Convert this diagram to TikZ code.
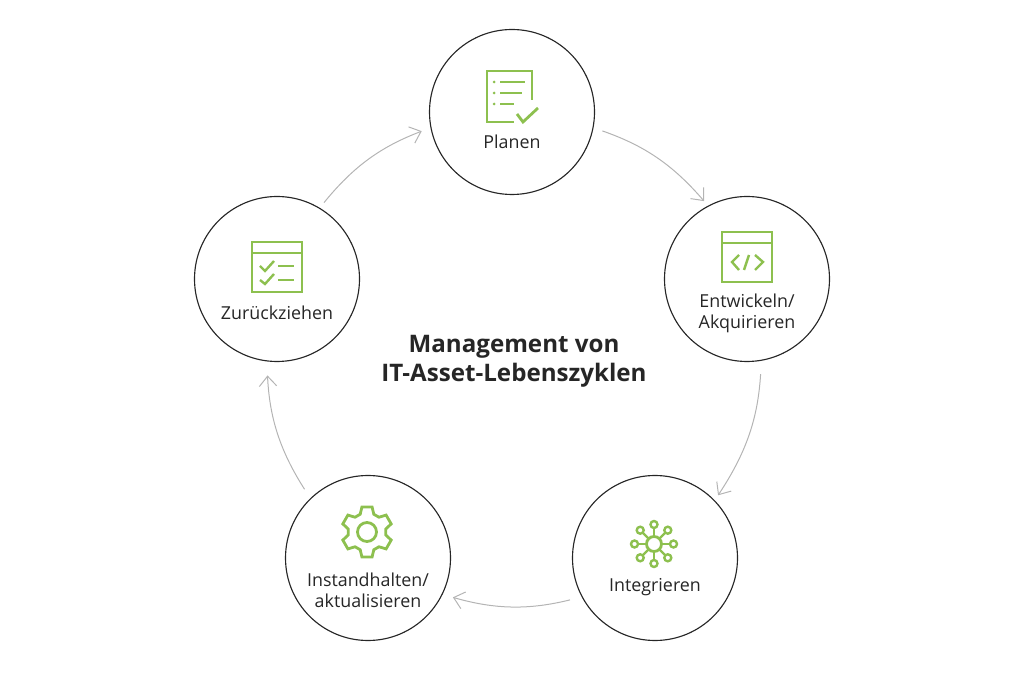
\documentclass[tikz,border=0pt]{standalone}
\usepackage{fontspec}
\setmainfont{Open Sans}
\usetikzlibrary{arrows.meta,positioning}
\definecolor{leaf}{HTML}{8DC04F}
\definecolor{ink}{HTML}{262626}
\definecolor{flowgray}{HTML}{B4B4B4}
\tikzset{
    stage/.style={circle,draw=ink,line width=.85pt,minimum size=123.75pt,inner sep=0pt},
    stagetext/.style={text=ink,align=center,inner sep=0pt,font=\fontsize{13.4}{15.75}\selectfont},
    heading/.style={text=ink,align=center,inner sep=0pt,font=\fontsize{18.1}{21.75}\selectfont\bfseries},
    flow/.style={draw=flowgray,line width=.75pt,-{Straight Barb[length=7.5pt,width=13pt]}},
    icon/.style={draw=leaf,line width=2.1pt,line cap=butt,line join=miter},
    iconthin/.style={draw=leaf,line width=1.8pt}
}
\begin{document}
\begin{tikzpicture}[x=.75pt,y=.75pt,on grid,auto]
    \useasboundingbox (0,0) rectangle (1024,682);
    \node[stage] (planen) at (512,570) {};
    \node[stage] (entwickeln) [below right=125.25pt and 176.25pt of planen] {};
    \node[stage] (integrieren) [below left=209.25pt and 69pt of entwickeln] {};
    \node[stage] (instandhalten) [left=215.25pt of integrieren] {};
    \node[stage] (zurueck) [below left=125.25pt and 176.25pt of planen] {};
    \node[heading] (titel) at (514,321) {Management von\\IT-Asset-Lebenszyklen};
    \node[stagetext] (planentext) [below=22.5pt of planen] {Planen};
    \node[stagetext] (entwickelntext) [below=25.75pt of entwickeln] {Entwickeln/\\Akquirieren};
    \node[stagetext] (integrierentext) [below=21.5pt of integrieren] {Integrieren};
    \node[stagetext] (instandhaltentext) [below=24pt of instandhalten] {Instandhalten/\\aktualisieren};
    \node[stagetext] (zuruecktext) [below=25.5pt of zurueck] {Zurückziehen};
    \path
    (planen.-11) edge [flow,bend left=15,shorten <=7pt,shorten >=4.5pt] (entwickeln.118)
    (entwickeln.-80) edge [flow,bend left=15,shorten <=10pt,shorten >=4.5pt] (integrieren.44)
    (integrieren.208) edge [flow,bend left=15,shorten <=9pt,shorten >=8pt] (instandhalten.-26)
    (instandhalten.134) edge [flow,bend left=15,shorten <=8pt,shorten >=10.5pt] (zurueck.263)
    (zurueck.59) edge [flow,bend left=15,shorten <=5pt,shorten >=7pt] (planen.191);
    % icons
    \begin{scope}[shift={(planen)}]
        \draw[icon] (20,12) -- (20,41) -- (-25,41) -- (-25,-10) -- (2,-10);
        \draw[icon] (5,-2) -- (11,-10) -- (26,4);
        \draw[iconthin] (-12,30) -- (13,30) (-12,19) -- (10,19) (-12,8) -- (2,8);
        \foreach \y in {30,19,8}
            \fill[leaf] (-18,\y) circle (1.5);
    \end{scope}
    \begin{scope}[shift={(entwickeln)}]
        \draw[icon] (-25,-3) rectangle (25,47) (-25,36) -- (25,36);
        \draw[iconthin] (-8,24) -- (-15,17) -- (-8,9) (8,24) -- (16,17) -- (8,9) (2,24) -- (-3,9);
    \end{scope}
    \begin{scope}[shift={(zurueck)}]
        \draw[icon] (-25,-13) rectangle (25,37) (-25,26) -- (25,26);
        \draw[iconthin] (-17,13) -- (-12,8) -- (-3,18) (-17,-1) -- (-12,-5) -- (-3,5);
        \draw[iconthin] (1,13) -- (17,13) (1,-1) -- (17,-1);
    \end{scope}
    \begin{scope}[shift={(instandhalten)}]
        \draw[icon] (-1,26) circle (9.5);
        \draw[icon,shift={(-1,26)}] (111:19)
            \foreach \a in {90,30,-30,-90,-150,-210}
                { -- (\a+21:19) -- (\a+11.5:25.5) -- (\a-11.5:25.5) -- (\a-21:19) } -- cycle;
    \end{scope}
    \begin{scope}[shift={(integrieren)}]
        \draw[icon] (-1,14) circle (7.5);
        \foreach \a in {0,45,...,315} {
            \draw[iconthin,shift={(-1,14)}] (\a:7.5) -- (\a:16);
            \draw[iconthin,shift={(-1,14)}] (\a:19.5) circle (3.5);
        }
    \end{scope}
\end{tikzpicture}
\end{document}
